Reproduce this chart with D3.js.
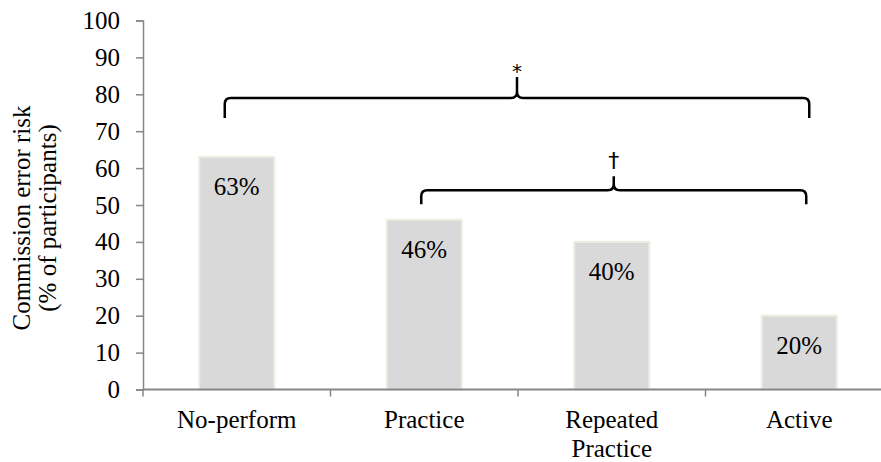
<!DOCTYPE html>
<html>
<head>
<meta charset="utf-8">
<script src="https://cdn.jsdelivr.net/npm/d3@7"></script>
<style>
  body { margin: 0; background: #fff; }
  svg { display: block; font-family: "Liberation Serif", "Times New Roman", serif; }
</style>
</head>
<body>
<svg width="881" height="462"></svg>
<script>
var categories = ["No-perform", "Practice", "Repeated Practice", "Active"];
var values = [63, 46, 40, 20];
var valueLabels = ["63%", "46%", "40%", "20%"];
var yTicks = [0, 10, 20, 30, 40, 50, 60, 70, 80, 90, 100];

// significance brackets
var bracketFrom = ["No-perform", "Practice"];
var bracketTo = ["Active", "Active"];
var bracketLevel = [79, 54];
var bracketTip = [73.6, 50.2];
var bracketPeak = [84.7, 57.8];
var bracketMark = ["*", "\u2020"];

var svg = d3.select("svg");
var axisColor = "#868686";
var fs = "25px";

var x = d3.scaleBand().domain(categories).range([143, 893]).paddingInner(0).paddingOuter(0);
var y = d3.scaleLinear().domain([0, 100]).range([389.5, 20.5]);

var barW = x.bandwidth() * 0.4;

// y axis
var yAxis = svg.append("g")
  .attr("transform", "translate(143,0)")
  .call(d3.axisLeft(y).tickValues(yTicks).tickSize(7).tickPadding(16));
yAxis.select(".domain").attr("stroke", axisColor).attr("stroke-width", 1.5);
yAxis.selectAll(".tick line").attr("stroke", axisColor).attr("stroke-width", 1.5);
yAxis.selectAll(".tick text")
  .attr("fill", "#000")
  .style("font-size", fs)
  .style("font-family", "Liberation Serif");

// bars
svg.selectAll(".bar")
  .data(values)
  .enter()
  .append("rect")
  .attr("class", "bar")
  .attr("x", function (d, i) { return x(categories[i]) + (x.bandwidth() - barW) / 2; })
  .attr("y", function (d) { return y(d); })
  .attr("width", barW)
  .attr("height", function (d) { return y(0) - y(d); })
  .attr("fill", "#d9d9d9")
  .attr("stroke", "#eeece1")
  .attr("stroke-width", 2);

// value labels inside bars
svg.selectAll(".vlabel")
  .data(values)
  .enter()
  .append("text")
  .attr("class", "vlabel")
  .attr("x", function (d, i) { return x(categories[i]) + x.bandwidth() / 2; })
  .attr("y", function (d) { return y(d) + 38; })
  .attr("text-anchor", "middle")
  .style("font-size", fs)
  .text(function (d, i) { return valueLabels[i]; });

// x axis
svg.append("line")
  .attr("x1", 143).attr("x2", 893)
  .attr("y1", y(0)).attr("y2", y(0))
  .attr("stroke", axisColor).attr("stroke-width", 2);
svg.selectAll(".xtick")
  .data(categories)
  .enter()
  .append("line")
  .attr("class", "xtick")
  .attr("x1", function (d) { return x(d); })
  .attr("x2", function (d) { return x(d); })
  .attr("y1", y(0)).attr("y2", y(0) + 7)
  .attr("stroke", axisColor).attr("stroke-width", 1.5);

var xl = svg.selectAll(".xlabel")
  .data(categories)
  .enter()
  .append("text")
  .attr("class", "xlabel")
  .attr("text-anchor", "middle")
  .attr("x", function (d) { return x(d) + x.bandwidth() / 2; })
  .attr("y", 428)
  .style("font-size", fs);
xl.each(function (d) {
  var words = d === "Repeated Practice" ? ["Repeated", "Practice"] : [d];
  var t = d3.select(this);
  words.forEach(function (w, k) {
    t.append("tspan")
      .attr("x", x(d) + x.bandwidth() / 2)
      .attr("dy", k === 0 ? 0 : 29)
      .text(w);
  });
});

// y axis title
var yt = svg.append("text")
  .attr("transform", "translate(30,218) rotate(-90)")
  .attr("text-anchor", "middle")
  .style("font-size", fs);
yt.append("tspan").attr("x", 0).attr("dy", 0).text("Commission error risk");
yt.append("tspan").attr("x", 0).attr("dy", 26).text("(% of participants)");

// brackets
bracketFrom.forEach(function (a, i) {
  var offL = i === 0 ? -12 : -3;
  var offR = i === 0 ? 10 : 7;
  var x0 = x(a) + x.bandwidth() / 2 + offL;
  var x1 = x(bracketTo[i]) + x.bandwidth() / 2 + offR;
  var xm = (x0 + x1) / 2;
  var yh = y(bracketLevel[i]);
  var yt0 = y(bracketTip[i]);
  var yp = y(bracketPeak[i]);
  var r = 6;
  var p = d3.path();
  p.moveTo(x0, yt0);
  p.lineTo(x0, yh + r);
  p.quadraticCurveTo(x0, yh, x0 + r, yh);
  p.lineTo(xm - r, yh);
  p.quadraticCurveTo(xm, yh, xm, yh - r);
  p.lineTo(xm, yp);
  p.moveTo(xm, yh - r);
  p.quadraticCurveTo(xm, yh, xm + r, yh);
  p.lineTo(x1 - r, yh);
  p.quadraticCurveTo(x1, yh, x1, yh + r);
  p.lineTo(x1, yt0);
  svg.append("path")
    .attr("d", p.toString())
    .attr("fill", "none")
    .attr("stroke", "#000")
    .attr("stroke-width", 2.5);
  svg.append("text")
    .attr("x", xm)
    .attr("y", i === 0 ? yp - 6 : yp - 16)
    .attr("text-anchor", "middle")
    .attr("dominant-baseline", "central")
    .style("font-family", "DejaVu Sans")
    .style("font-size", i === 0 ? "20px" : "22px")
    .text(bracketMark[i]);
});
</script>
</body>
</html>
